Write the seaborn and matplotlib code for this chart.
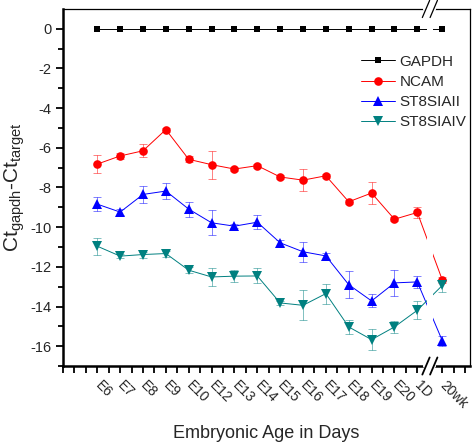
import numpy as np
import pandas as pd
import seaborn as sns
import matplotlib.pyplot as plt
from matplotlib.ticker import FixedLocator

# stage labels (20wk sits after an axis break)
stages = ["E6", "E7", "E8", "E9", "E10", "E12", "E13", "E14", "E15", "E16",
          "E17", "E18", "E19", "E20", "1D", "20wk"]

gapdh = [0] * 16
gapdh_err = [0] * 16
ncam = [-6.82, -6.41, -6.15, -5.08, -6.58, -6.85, -7.07, -6.9, -7.47, -7.63,
        -7.41, -8.72, -8.28, -9.6, -9.26, -12.68]
ncam_err = [0.45, 0.15, 0.33, 0.1, 0.15, 0.7, 0.1, 0.1, 0.1, 0.54,
            0.1, 0.1, 0.54, 0.1, 0.3, 0.15]
st2 = [-8.84, -9.24, -8.35, -8.18, -9.09, -9.78, -9.95, -9.75, -10.79, -11.24,
       -11.45, -12.9, -13.72, -12.81, -12.76, -15.74]
st2_err = [0.35, 0.15, 0.44, 0.4, 0.38, 0.64, 0.1, 0.35, 0.15, 0.5,
           0.15, 0.68, 0.33, 0.64, 0.3, 0.25]
st4 = [-10.96, -11.46, -11.38, -11.33, -12.17, -12.51, -12.47, -12.46, -13.82, -13.94,
       -13.35, -15.03, -15.67, -15.03, -14.19, -12.93]
st4_err = [0.42, 0.1, 0.15, 0.15, 0.15, 0.44, 0.3, 0.38, 0.1, 0.75,
           0.5, 0.36, 0.53, 0.32, 0.46, 0.32]

series = ["GAPDH", "NCAM", "ST8SIAII", "ST8SIAIV"]
colors = {"GAPDH": "#000000", "NCAM": "#ff0000", "ST8SIAII": "#0000ff", "ST8SIAIV": "#008080"}
markers = {"GAPDH": "s", "NCAM": "o", "ST8SIAII": "^", "ST8SIAIV": "v"}
msize = {"s": 4.6, "o": 6.2, "^": 6.8, "v": 6.8}

# x positions: one slot per stage, 20wk squeezed in after the break
break_gap = 1.1
xpos = list(np.arange(15)) + [14 + break_gap]
break_x = 14 + break_gap / 2

vals = {"GAPDH": (gapdh, gapdh_err), "NCAM": (ncam, ncam_err),
        "ST8SIAII": (st2, st2_err), "ST8SIAIV": (st4, st4_err)}
rows = []
for s in series:
    for x, v, e in zip(xpos, vals[s][0], vals[s][1]):
        rows.append({"x": x, "value": v, "err": e, "gene": s})
df = pd.DataFrame(rows)

sns.set_style("ticks")
plt.rcParams["font.family"] = ["Liberation Sans", "DejaVu Sans"]
plt.rcParams["mathtext.fontset"] = "custom"
plt.rcParams["mathtext.rm"] = "Liberation Sans"
plt.rcParams["mathtext.it"] = "Liberation Sans"
plt.rcParams["axes.unicode_minus"] = False

fig = plt.figure(figsize=(4.72, 4.48), dpi=100)
ax = fig.add_axes([0.1335, 0.183, 0.862, 0.797])

sns.lineplot(data=df, x="x", y="value", hue="gene", style="gene", hue_order=series,
             style_order=series, palette=colors, markers=markers, dashes=False,
             linewidth=0.7, markersize=6, markeredgewidth=0, ax=ax)
for ln in ax.lines:
    m = ln.get_marker()
    if m in msize:
        ln.set_markersize(msize[m])

for s in series:
    sub = df[df.gene == s]
    if s == "GAPDH":
        continue
    ax.errorbar(sub.x, sub.value, yerr=sub.err, fmt="none", ecolor=colors[s],
                elinewidth=0.7, capsize=3, capthick=0.7, alpha=0.5, zorder=1.5)

# gap in the lines at the axis break
ax.axvspan(break_x - 0.13, break_x + 0.13, color="white", zorder=2.2, lw=0)

ax.set_xlim(-1.5, 16.3)
ax.set_ylim(-17, 1)

major = list(np.arange(-1, 15)) + [xpos[-1], xpos[-1] + 1]
minor = list(np.arange(-1.5, 14.5, 1.0)) + [xpos[-1] + 0.5]
ax.xaxis.set_major_locator(FixedLocator(major))
ax.xaxis.set_minor_locator(FixedLocator(minor))
ax.set_xticklabels([""] + stages + [""], rotation=-45, ha="left", va="center",
                   rotation_mode="anchor", fontsize=10)
ax.set_yticks(np.arange(-16, 1, 2))
ax.set_yticks(np.arange(-17, 1, 2), minor=True)
ax.tick_params(axis="y", labelsize=10.5)
ax.tick_params(which="major", direction="out", length=5, width=1.3, color="black")
ax.tick_params(which="minor", direction="out", length=3.5, width=1.3, color="black")
ax.tick_params(axis="x", which="both", length=5, pad=7)

for side in ["left", "bottom"]:
    ax.spines[side].set_linewidth(1.8)
for side in ["top", "right"]:
    ax.spines[side].set_linewidth(0.9)
for sp in ax.spines.values():
    sp.set_color("black")

# break marks on top and bottom spines
trans = ax.get_xaxis_transform()
for yb in [0, 1]:
    ax.plot([break_x - 0.2, break_x + 0.2], [yb, yb], color="white", lw=3,
            transform=trans, clip_on=False, zorder=5)
    for dx in [-0.17, 0.17]:
        ax.plot([break_x + dx - 0.16, break_x + dx + 0.16], [yb - 0.024, yb + 0.024],
                color="black", lw=0.9 if yb else 1.3, transform=trans, clip_on=False, zorder=6)

ax.set_xlabel("Embryonic Age in Days", fontsize=13, labelpad=10)
ax.set_ylabel(r"Ct$_{\mathrm{gapdh}}$-Ct$_{\mathrm{target}}$", fontsize=15, labelpad=2)

leg = ax.get_legend()
handles = leg.legend_handles
labels = [t.get_text() for t in leg.get_texts()]
for h in handles:
    h.set_linewidth(0.7)
    if h.get_marker() in msize:
        h.set_markersize(msize[h.get_marker()])
ax.legend(handles, labels, loc="upper right", bbox_to_anchor=(1.025, 0.91), frameon=False,
          fontsize=11, handlelength=2.2, handletextpad=0.3, labelspacing=0.4)

fig.savefig("out.png", dpi=100)
